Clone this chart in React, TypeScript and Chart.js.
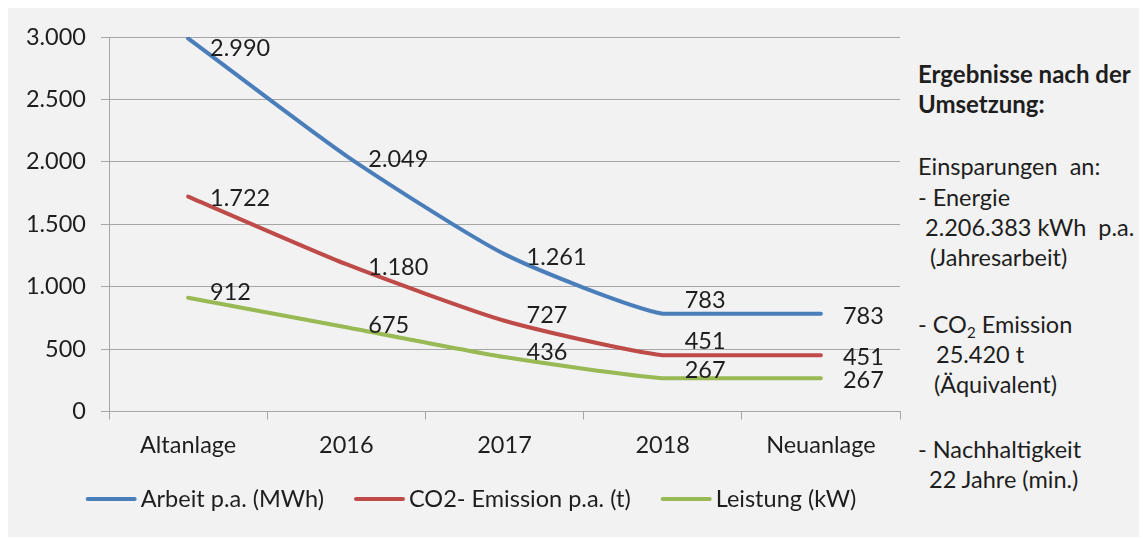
import React, { useEffect, useRef } from "react";
import { Chart, registerables } from "chart.js";

Chart.register(...registerables);

// ---- data ----
const categories = ["Altanlage", "2016", "2017", "2018", "Neuanlage"];
const arbeitMWh = [2990, 2049, 1261, 783, 783];
const co2Tonnen = [1722, 1180, 727, 451, 451];
const leistungKW = [912, 675, 436, 267, 267];
const seriesLabels = ["Arbeit p.a. (MWh)", "CO2- Emission p.a. (t)", "Leistung (kW)"];
const yMin = 0;
const yMax = 3000;
const yStep = 500;

// ---- style / layout ----
const COLORS = ["#4A7EBB", "#BE4B48", "#98B954"];
const FONT_FAMILY = "Lato, 'Open Sans', sans-serif";
const FONT_SIZE = 23.5;
const TEXT = "#1e1e1e";
const GRID = "#a6a6a6";
const BG = "#f2f2f2";
// vertical offsets of value labels relative to their points (px)
const labelDy = [
  [10, 4, 3, -13, 3],
  [2, 3, -5, -14, 2],
  [-5, -2, -5, -8, 2],
];

function fmt(v: number): string {
  return String(Math.round(v)).replace(/\B(?=(\d{3})+(?!\d))/g, ".");
}

// keep segments between equal values flat (Excel-like smoothing result)
const flatSegmentPlugin = {
  id: "flatSegments",
  beforeDatasetDraw(chart: any, args: any) {
    const meta = args.meta;
    const line = meta.dataset;
    if (!line || !line.updateControlPoints) return;
    line.updateControlPoints(chart.chartArea, meta.iScale ? meta.iScale.axis : "x");
    const pts = meta.data;
    for (let i = 0; i < pts.length - 1; i++) {
      const a = pts[i];
      const b = pts[i + 1];
      if (Math.abs(a.y - b.y) < 0.01) {
        a.cp2y = a.y;
        b.cp1y = b.y;
      }
    }
  },
};

const valueLabelPlugin = {
  id: "valueLabels",
  afterDatasetsDraw(chart: any) {
    const ctx = chart.ctx;
    ctx.save();
    ctx.font = `${FONT_SIZE}px ${FONT_FAMILY}`;
    ctx.fillStyle = TEXT;
    ctx.textAlign = "left";
    ctx.textBaseline = "middle";
    chart.data.datasets.forEach((ds: any, di: number) => {
      const meta = chart.getDatasetMeta(di);
      meta.data.forEach((pt: any, i: number) => {
        const v = ds.data[i];
        ctx.fillText(fmt(v), pt.x + 22, pt.y + labelDy[di][i]);
      });
    });
    ctx.restore();
  },
};

const customLegendPlugin = {
  id: "customLegend",
  afterDraw(chart: any) {
    const ctx = chart.ctx;
    ctx.save();
    ctx.font = `${FONT_SIZE}px ${FONT_FAMILY}`;
    const lineLen = 51;
    const gapText = 4;
    const gapItem = 30;
    const items = chart.data.datasets.map((ds: any) => ({
      label: ds.label,
      color: ds.borderColor,
      w: ctx.measureText(ds.label).width,
    }));
    const total =
      items.reduce((s: number, it: any) => s + lineLen + gapText + it.w, 0) +
      gapItem * (items.length - 1);
    const centerX = 463;
    const y = 491;
    let x = centerX - total / 2;
    items.forEach((it: any) => {
      ctx.strokeStyle = it.color;
      ctx.lineWidth = 4;
      ctx.lineCap = "round";
      ctx.beginPath();
      ctx.moveTo(x + 2, y);
      ctx.lineTo(x + lineLen - 2, y);
      ctx.stroke();
      ctx.fillStyle = TEXT;
      ctx.textAlign = "left";
      ctx.textBaseline = "middle";
      ctx.fillText(it.label, x + lineLen + gapText, y);
      x += lineLen + gapText + it.w + gapItem;
    });
    ctx.restore();
  },
};

const sideLines: { text: React.ReactNode; left: number; baseline: number; bold?: boolean }[] = [
  { text: "Ergebnisse nach der", left: 918, baseline: 83, bold: true },
  { text: "Umsetzung:", left: 918, baseline: 113, bold: true },
  { text: "Einsparungen  an:", left: 918, baseline: 175 },
  { text: "- Energie", left: 918, baseline: 206 },
  { text: "2.206.383 kWh  p.a.", left: 925, baseline: 236 },
  { text: "(Jahresarbeit)", left: 930, baseline: 266 },
  {
    text: (
      <>
        - CO<span style={{ fontSize: 15, position: "relative", top: 5 }}>2</span> Emission
      </>
    ),
    left: 918,
    baseline: 333,
  },
  { text: "25.420 t", left: 936, baseline: 363 },
  { text: "(Äquivalent)", left: 934, baseline: 393 },
  { text: "- Nachhaltigkeit", left: 918, baseline: 458 },
  { text: "22 Jahre (min.)", left: 929, baseline: 488 },
];

export default function App() {
  const canvasRef = useRef<HTMLCanvasElement | null>(null);

  useEffect(() => {
    if (!canvasRef.current) return;
    const font = { family: FONT_FAMILY, size: FONT_SIZE };
    const series = [arbeitMWh, co2Tonnen, leistungKW];
    const chart = new Chart(canvasRef.current, {
      type: "line",
      data: {
        labels: categories,
        datasets: series.map((d, i) => ({
          label: seriesLabels[i],
          data: d,
          borderColor: COLORS[i],
          backgroundColor: COLORS[i],
          borderWidth: 4,
          pointRadius: 0,
          fill: false,
          tension: 0.2,
          borderCapStyle: "round" as const,
          borderJoinStyle: "round" as const,
        })),
      },
      options: {
        responsive: false,
        animation: false,
        layout: { padding: { left: 0, top: 27, right: 18, bottom: 0 } },
        plugins: {
          legend: { display: false },
          tooltip: { enabled: false },
        },
        scales: {
          x: {
            offset: true,
            grid: {
              offset: true,
              drawOnChartArea: false,
              drawTicks: true,
              tickLength: 8,
              color: GRID,
            },
            border: { display: true, color: GRID, width: 1 },
            ticks: { font, color: TEXT, padding: 12, maxRotation: 0 },
            afterFit: (s: any) => {
              s.height = 125.5;
            },
          },
          y: {
            min: yMin,
            max: yMax,
            ticks: {
              stepSize: yStep,
              font,
              color: TEXT,
              padding: 15,
              callback: (v: any) => fmt(Number(v)),
            },
            grid: { color: GRID, tickLength: 8, lineWidth: 1 },
            border: { display: true, color: GRID, width: 1 },
            afterFit: (s: any) => {
              s.width = 101;
            },
          },
        },
      },
      plugins: [flatSegmentPlugin, valueLabelPlugin, customLegendPlugin],
    });
    return () => chart.destroy();
  }, []);

  return (
    <div
      style={{
        position: "relative",
        width: 1139,
        height: 529,
        background: BG,
        fontFamily: FONT_FAMILY,
        overflow: "hidden",
      }}
    >
      <canvas
        ref={canvasRef}
        width={910}
        height={529}
        style={{ position: "absolute", left: 0, top: 0, width: 910, height: 529 }}
      />
      {sideLines.map((l, i) => (
        <div
          key={i}
          style={{
            position: "absolute",
            left: l.left - 8,
            top: l.baseline - 8 - 24.5,
            fontSize: l.bold ? 24 : FONT_SIZE,
            lineHeight: "30px",
            fontWeight: l.bold ? 700 : 400,
            color: TEXT,
            whiteSpace: "pre",
          }}
        >
          {l.text}
        </div>
      ))}
    </div>
  );
}
